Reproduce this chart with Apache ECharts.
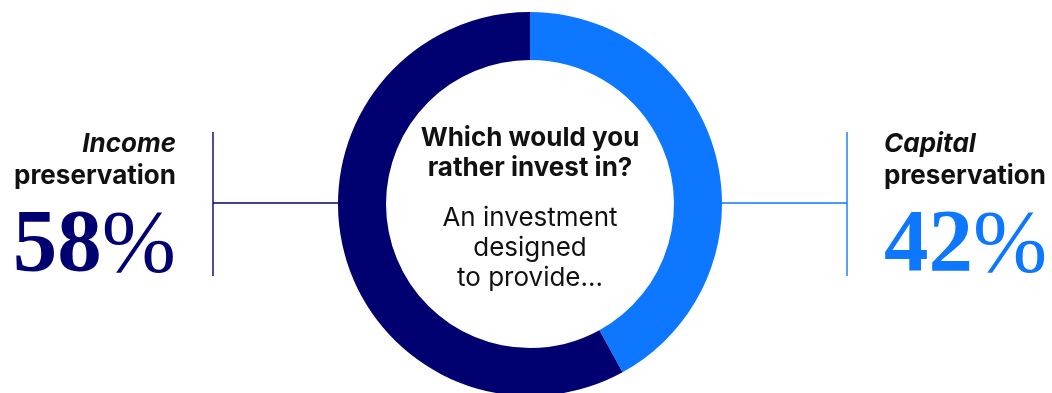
<!DOCTYPE html>
<html>
<head>
<meta charset="utf-8">
<script src="https://cdn.jsdelivr.net/npm/echarts@6/dist/echarts.min.js"></script>
<style>
  html, body { margin: 0; padding: 0; background: #ffffff; }
  #chart { width: 1052px; height: 393px; }
</style>
</head>
<body>
<div id="chart"></div>
<script>
// Survey answer shares
const categories = ['Capital preservation', 'Income preservation'];
const categoryLead = ['Capital', 'Income'];
const shares = [42, 58];
const colors = ['#0D77FF', '#000070'];
const question = ['Which would you', 'rather invest in?'];
const prompt = ['An investment', 'designed', 'to provide...'];

const chart = echarts.init(document.getElementById('chart'), null, { renderer: 'canvas' });

const sansFont = 'Inter, "Noto Sans", sans-serif';
const serifFont = '"Liberation Serif", "DejaVu Serif", serif';

const cx = 530, cy = 204;

function sideLabel(idx, x, align) {
  return [
    {
      type: 'text', x: x, y: 144,
      style: {
        text: categoryLead[idx], font: 'italic 700 26px ' + sansFont,
        fill: '#111111', align: align, verticalAlign: 'middle'
      }
    },
    {
      type: 'text', x: x, y: 176,
      style: {
        text: 'preservation', font: '700 26px ' + sansFont,
        fill: '#111111', align: align, verticalAlign: 'middle'
      }
    },
    {
      type: 'text', x: x, y: 292,
      style: {
        text: '{n|' + shares[idx] + '}{p|%}',
        align: align, verticalAlign: 'bottom',
        rich: {
          n: { font: '700 89px ' + serifFont, fill: colors[idx] },
          p: { font: '400 89px ' + serifFont, fill: colors[idx] }
        }
      }
    }
  ];
}

const graphics = [
  // connector on the left
  { type: 'line', shape: { x1: 213, y1: 132, x2: 213, y2: 276 }, style: { stroke: colors[1], lineWidth: 1.4 } },
  { type: 'line', shape: { x1: 213, y1: 203, x2: 345, y2: 203 }, style: { stroke: colors[1], lineWidth: 1.4 } },
  // connector on the right
  { type: 'line', shape: { x1: 847, y1: 132, x2: 847, y2: 276 }, style: { stroke: colors[0], lineWidth: 1.4 } },
  { type: 'line', shape: { x1: 715, y1: 203, x2: 847, y2: 203 }, style: { stroke: colors[0], lineWidth: 1.4 } }
]
  .concat(sideLabel(1, 176, 'right'))
  .concat(sideLabel(0, 884, 'left'));

question.forEach((t, i) => {
  graphics.push({
    type: 'text', x: cx, y: 138 + i * 30, z: 10,
    style: { text: t, font: '700 26px ' + sansFont, fill: '#111111', align: 'center', verticalAlign: 'middle' }
  });
});
prompt.forEach((t, i) => {
  graphics.push({
    type: 'text', x: cx, y: 218 + i * 30, z: 10,
    style: { text: t, font: '400 26px ' + sansFont, fill: '#111111', align: 'center', verticalAlign: 'middle' }
  });
});

chart.setOption({
  animation: false,
  backgroundColor: '#ffffff',
  series: [{
    type: 'pie',
    silent: true,
    center: [cx, cy],
    radius: [144, 192],
    startAngle: 90,
    clockwise: true,
    label: { show: false },
    labelLine: { show: false },
    z: 5,
    data: categories.map((c, i) => ({ name: c, value: shares[i], itemStyle: { color: colors[i] } }))
  }],
  graphic: graphics
});
</script>
</body>
</html>
